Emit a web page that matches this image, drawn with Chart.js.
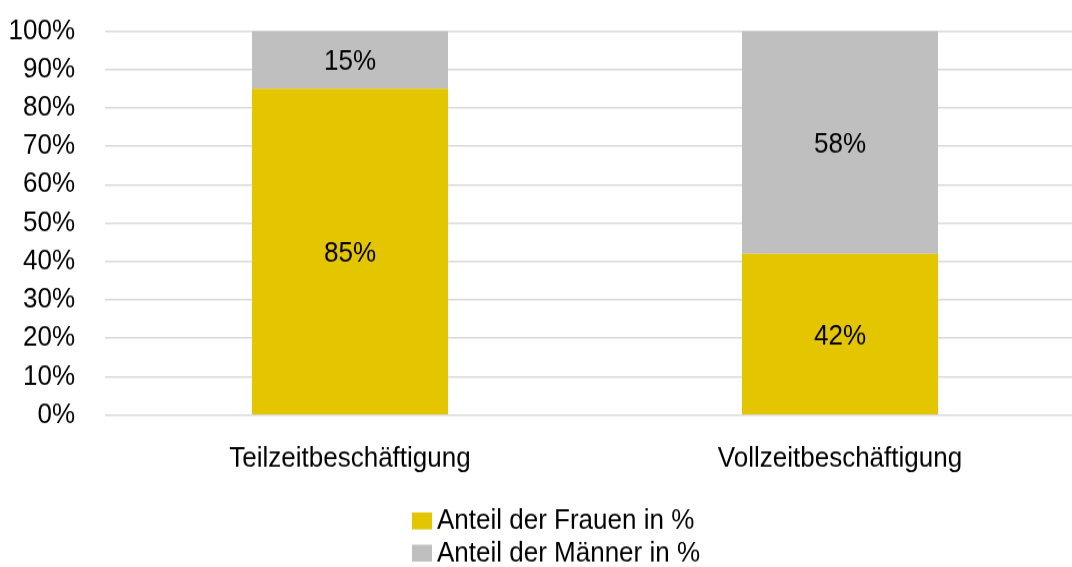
<!DOCTYPE html>
<html>
<head>
<meta charset="utf-8">
<script src="https://cdn.jsdelivr.net/npm/chart.js@4/dist/chart.umd.min.js"></script>
<style>
  html, body { margin: 0; padding: 0; background: #fff; overflow: hidden; }
  /* the reference text is tall and narrow: draw at 520px high, show stretched to 567px */
  #chart { display: block; width: 1085px; height: 567px; }
</style>
</head>
<body>
<canvas id="chart" width="1085" height="520" style="width:1085px;height:567px"></canvas>
<script>
// --- Data ---
const categories = ['Teilzeitbeschäftigung', 'Vollzeitbeschäftigung'];
const womenShare = [85, 42];
const menShare = [15, 58];
const seriesNames = ['Anteil der Frauen in %', 'Anteil der Männer in %'];
const yTicks = [0, 10, 20, 30, 40, 50, 60, 70, 80, 90, 100];

const FONT = '"Liberation Sans", Arial, sans-serif';
const FONT_SIZE = 26;
const YELLOW = '#E3C600';
const GREY = '#BFBFBF';

// labels in the middle of each segment
const valueLabels = {
  id: 'valueLabels',
  afterDatasetsDraw(chart) {
    const ctx = chart.ctx;
    ctx.save();
    ctx.font = FONT_SIZE + 'px ' + FONT;
    ctx.fillStyle = '#000';
    ctx.textAlign = 'center';
    ctx.textBaseline = 'middle';
    chart.data.datasets.forEach((ds, i) => {
      chart.getDatasetMeta(i).data.forEach((bar, j) => {
        ctx.fillText(ds.data[j] + '%', bar.x, (bar.y + bar.base) / 2 + 2.5);
      });
    });
    ctx.restore();
  }
};

// legend stacked vertically under the axis
const stackedLegend = {
  id: 'stackedLegend',
  afterDraw(chart) {
    const ctx = chart.ctx;
    ctx.save();
    ctx.font = FONT_SIZE + 'px ' + FONT;
    ctx.textBaseline = 'middle';
    ctx.textAlign = 'left';
    const x0 = 412;
    const rows = [478, 507.5];
    chart.data.datasets.forEach((ds, i) => {
      ctx.fillStyle = ds.backgroundColor;
      ctx.fillRect(x0, rows[i] - 8, 20, 15.5);
      ctx.fillStyle = '#000';
      ctx.fillText(ds.label, x0 + 25, rows[i]);
    });
    ctx.restore();
  }
};

new Chart(document.getElementById('chart'), {
  type: 'bar',
  data: {
    labels: categories,
    datasets: [
      { label: seriesNames[0], data: womenShare, backgroundColor: YELLOW },
      { label: seriesNames[1], data: menShare, backgroundColor: GREY }
    ]
  },
  options: {
    responsive: false,
    animation: false,
    devicePixelRatio: 1,
    layout: { padding: { top: 28.4, left: 0, right: 0, bottom: 0 } },
    datasets: { bar: { barPercentage: 0.4, categoryPercentage: 1.0 } },
    plugins: {
      legend: { display: false },
      tooltip: { enabled: false }
    },
    scales: {
      x: {
        stacked: true,
        grid: { display: false, drawTicks: false },
        border: { display: false },
        ticks: { color: '#000', font: { family: FONT, size: FONT_SIZE }, padding: 25 },
        afterFit(scale) { scale.height = 139.4; }
      },
      y: {
        stacked: true,
        min: 0,
        max: 100,
        afterBuildTicks(scale) { scale.ticks = yTicks.map(v => ({ value: v })); },
        grid: { color: '#D9D9D9', lineWidth: 1.4, drawTicks: false },
        border: { display: false },
        ticks: {
          color: '#000',
          font: { family: FONT, size: FONT_SIZE },
          padding: 30,
          autoSkip: false,
          callback: v => v + '%'
        },
        afterFit(scale) {
          scale.width = 105;
          // tick padding would otherwise push the plot top down
          scale.paddingTop = 0;
          scale.paddingBottom = 0;
        }
      }
    }
  },
  plugins: [valueLabels, stackedLegend]
});
</script>
</body>
</html>
